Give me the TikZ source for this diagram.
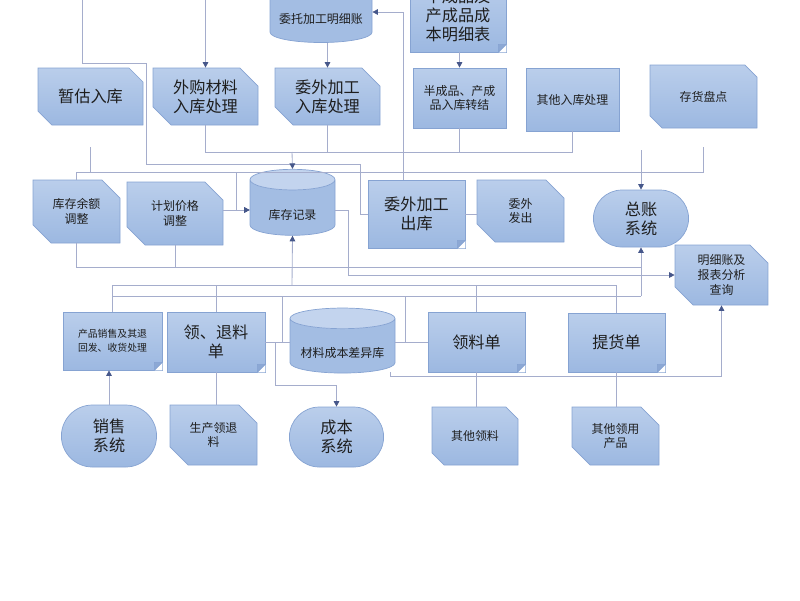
\documentclass[tikz,border=0pt]{standalone}
\usepackage{fontspec}
\setmainfont{Noto Sans CJK SC}
\usetikzlibrary{shapes.geometric,shapes.misc,arrows.meta}
\definecolor{boxtop}{HTML}{BACEEB}
\definecolor{boxbot}{HTML}{9CB8E1}
\definecolor{boxline}{HTML}{86A3D2}
\definecolor{foldcol}{HTML}{8CA8D4}
\definecolor{dbbody}{HTML}{A3BDE3}
\definecolor{dbend}{HTML}{C3D4EE}
\definecolor{wirecol}{HTML}{A5ADCC}
\definecolor{tipblue}{HTML}{46578A}
\definecolor{ink}{HTML}{1E1E1E}
\newcommand{\pxl}[1]{#1*0.025cm}

\begin{document}
\begin{tikzpicture}[x=0.025cm,y=-0.025cm,
    box/.style={draw=boxline,line width=0.5pt,top color=boxtop,bottom color=boxbot,
        text=ink,align=center,inner sep=1pt},
    big/.style={font=\fontsize{11.5}{13.5}\selectfont},
    small/.style={font=\fontsize{8.5}{10.5}\selectfont},
    snip/.style={box,chamfered rectangle,chamfered rectangle corners={north east,south west},
        chamfered rectangle xsep=\pxl{13}},
    note/.style={box,rectangle},
    plain/.style={box,rectangle},
    db/.style={draw=boxline,line width=0.5pt,cylinder,shape border rotate=90,aspect=2.2,
        cylinder uses custom fill,cylinder body fill=dbbody,cylinder end fill=dbend},
    term/.style={box,rounded rectangle},
    wire/.style={draw=wirecol,line width=0.6pt},
    arr/.style={wire,-{Triangle[length=4pt,width=4pt,color=tipblue]}},
    fold/.style={fill=foldcol,draw=boxline,line width=0.5pt}]
    \useasboundingbox (0,0) rectangle (800,600);
    \clip (0,0) rectangle (800,600);

    % top row, cut by the page edge
    \node[db,minimum width=\pxl{102},minimum height=\pxl{70},
        label={[small,text=ink,yshift=-\pxl{4}]center:委托加工明细账}] (wtmx) at (321,15) {};
    \node[note,big,minimum width=\pxl{96},minimum height=\pxl{74}] (cpb) at (458,15) {半成品及\\产成品成\\本明细表};

    % inbound
    \node[snip,big,minimum width=\pxl{105},minimum height=\pxl{57}] (zgrk) at (90.5,96.5) {暂估入库};
    \node[snip,big,minimum width=\pxl{105},minimum height=\pxl{57}] (wgcl) at (205.5,96.5) {外购材料\\入库处理};
    \node[snip,big,minimum width=\pxl{105},minimum height=\pxl{57}] (wwjg) at (327.5,96.5) {委外加工\\入库处理};
    \node[plain,small,minimum width=\pxl{93},minimum height=\pxl{60}] (bcp) at (459.5,98) {半成品、产成\\品入库转结};
    \node[plain,small,minimum width=\pxl{93},minimum height=\pxl{63}] (qtrk) at (572.5,99.5) {其他入库处理};
    \node[snip,small,minimum width=\pxl{107},minimum height=\pxl{63},chamfered rectangle xsep=\pxl{17}] (chpd) at (703.5,96.5) {存货盘点};

    % stock
    \node[snip,small,minimum width=\pxl{87},minimum height=\pxl{63}] (kcye) at (76.5,211.5) {库存余额\\调整};
    \node[snip,small,minimum width=\pxl{96},minimum height=\pxl{63}] (jhjg) at (175,213.5) {计划价格\\调整};
    \node[db,minimum width=\pxl{85},minimum height=\pxl{66},
        label={[small,text=ink,yshift=-\pxl{5}]center:库存记录}] (kcjl) at (292.5,210) {};
    \node[note,big,minimum width=\pxl{97},minimum height=\pxl{68}] (wwck) at (416.5,214) {委外加工\\出库};
    \node[snip,small,minimum width=\pxl{87},minimum height=\pxl{62}] (wwfc) at (520.5,211) {委外\\发出};
    \node[term,big,minimum width=\pxl{98},minimum height=\pxl{57}] (zzxt) at (641,218.5) {总账\\系统};
    \node[snip,small,minimum width=\pxl{93},minimum height=\pxl{60}] (mxz) at (721.5,275) {明细账及\\报表分析\\查询};

    % outbound
    \node[note,font=\fontsize{7}{10}\selectfont,minimum width=\pxl{99},minimum height=\pxl{58}] (cpxs) at (112.5,341) {产品销售及其退\\回发、收货处理};
    \node[note,big,minimum width=\pxl{98},minimum height=\pxl{60}] (ltld) at (216,342) {领、退料\\单};
    \node[db,minimum width=\pxl{105},minimum height=\pxl{65},
        label={[small,text=ink,yshift=-\pxl{5}]center:材料成本差异库}] (clcb) at (342.5,348) {};
    \node[note,big,minimum width=\pxl{97},minimum height=\pxl{60}] (lld) at (476.5,342) {领料单};
    \node[note,big,minimum width=\pxl{97},minimum height=\pxl{59}] (thd) at (616.5,342.5) {提货单};

    % systems and sources
    \node[term,big,minimum width=\pxl{98},minimum height=\pxl{62}] (xsxt) at (109,436) {销售\\系统};
    \node[snip,small,minimum width=\pxl{87},minimum height=\pxl{60}] (sclt) at (213.5,435) {生产领退\\料};
    \node[term,big,minimum width=\pxl{97},minimum height=\pxl{60}] (cbxt) at (336.5,437) {成本\\系统};
    \node[snip,small,minimum width=\pxl{86},minimum height=\pxl{58}] (qtll) at (475,436) {其他领料};
    \node[snip,small,minimum width=\pxl{87},minimum height=\pxl{58}] (qtly) at (615.5,436) {其他领用\\产品};

    % folded corners
    \fill[white] (cpb.south east) -- ++(-8,0) -- ++(8,-8) -- cycle;
    \filldraw[fold] (cpb.south east) ++(-8,0) -- ++(8,-8) -- ++(-8,0) -- cycle;
    \fill[white] (wwck.south east) -- ++(-8,0) -- ++(8,-8) -- cycle;
    \filldraw[fold] (wwck.south east) ++(-8,0) -- ++(8,-8) -- ++(-8,0) -- cycle;
    \fill[white] (cpxs.south east) -- ++(-8,0) -- ++(8,-8) -- cycle;
    \filldraw[fold] (cpxs.south east) ++(-8,0) -- ++(8,-8) -- ++(-8,0) -- cycle;
    \fill[white] (ltld.south east) -- ++(-8,0) -- ++(8,-8) -- cycle;
    \filldraw[fold] (ltld.south east) ++(-8,0) -- ++(8,-8) -- ++(-8,0) -- cycle;
    \fill[white] (lld.south east) -- ++(-8,0) -- ++(8,-8) -- cycle;
    \filldraw[fold] (lld.south east) ++(-8,0) -- ++(8,-8) -- ++(-8,0) -- cycle;
    \fill[white] (thd.south east) -- ++(-8,0) -- ++(8,-8) -- cycle;
    \filldraw[fold] (thd.south east) ++(-8,0) -- ++(8,-8) -- ++(-8,0) -- cycle;

    \coordinate (topl) at (82,-5);
    \coordinate (topm) at (205.5,-5);
    \coordinate (zgend) at (90,147);
    \coordinate (pdend) at (703,147);
    \coordinate (zzend) at (641,150);
    \coordinate (busa) at (292,152);
    \coordinate (busl) at (236,172);
    \coordinate (busb) at (292,285);
    \coordinate (busc) at (641,267);
    \coordinate (busd) at (641,296);
    \coordinate (jl) at (282,342);
    \coordinate (jm) at (275,342);
    \coordinate (jr) at (405,342);
    \coordinate (cbout) at (390,372);

    % top links
    \draw[arr] (topm) -- (wgcl.north);
    \draw[arr] (wtmx.south -| wwjg.north) -- (wwjg.north);
    \draw[arr] (cpb.south -| bcp.north) -- (bcp.north);
    \draw[arr] ([xshift=-\pxl{13}]wwck.north) |- ([yshift=\pxl{3}]wtmx.east);
    \draw[wire] (topl) |- (146,63) |- (360,164) |- (wwck.west);
    \draw[wire] (wgcl.south) |- (busa);
    \draw[wire] (wwjg.south) |- (busa);
    \draw[wire] (bcp.south) |- (busa);
    \draw[wire] (qtrk.south) |- (busa);
    \draw[arr] (busa) -- (kcjl.north);
    \draw[wire] (pdend) |- (kcye.north |- busl) -- (kcye.north);
    \draw[wire] (zgend) -- (zgend |- busl);
    \draw[arr] (busl) |- (kcjl.west);
    \draw[arr] (jhjg.east |- kcjl.west) -- (kcjl.west);
    \draw[arr] (zzend) -- (zzxt.north);
    \draw[wire] (wwck.east) -- (wwck.east -| wwfc.west);

    % middle links
    \draw[wire] (kcye.south) |- (busc);
    \draw[wire] (jhjg.south) |- (busc);
    \draw[arr] (busd) -- (zzxt.south);
    \draw[arr] (kcjl.east) -- ++(13,0) |- (mxz.west);
    \draw[arr] (busb) -- (kcjl.south);
    \draw[wire] (cpxs.north) |- (busb);
    \draw[wire] (ltld.north) |- (busb);
    \draw[wire] (lld.north) |- (busb);
    \draw[wire] (thd.north) |- (busb);
    \draw[wire] (cpxs.north) |- (busd);
    \draw[wire] (jl) -- (jl |- busd);
    \draw[wire] (jr) -- (jr |- busd);
    \draw[wire] (ltld.east) -- (ltld.east -| clcb.west);
    \draw[wire] (lld.west -| clcb.east) -- (lld.west);
    \draw[arr] (jm) -- ++(0,43) -| (cbxt.north);
    \draw[arr] (cbout) -- (cbout |- 0,376) -| (mxz.south);

    % bottom links
    \draw[arr] (xsxt.north) -- (xsxt.north |- cpxs.south);
    \draw[wire] (ltld.south) -- (ltld.south |- sclt.north);
    \draw[wire] (lld.south) -- (lld.south |- qtll.north);
    \draw[wire] (thd.south) -- (thd.south |- qtly.north);
\end{tikzpicture}
\end{document}
